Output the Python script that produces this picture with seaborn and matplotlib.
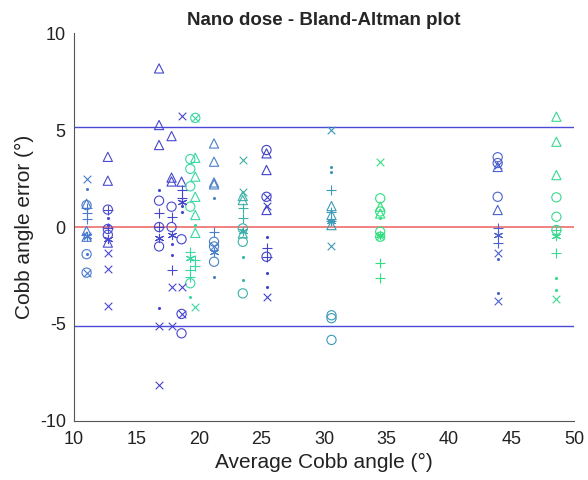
import matplotlib
matplotlib.use("Agg")
import matplotlib.pyplot as plt
from matplotlib.markers import MarkerStyle
import seaborn as sns

# Average Cobb angle of each case (x) and its colour
case_x = [11.0, 12.7, 16.8, 17.8, 18.6, 19.3, 19.7, 21.2, 23.5, 25.4, 30.6, 34.5, 43.9, 48.6]
case_colors = ['#4a7ad0', '#4a4ad0', '#4646cc', '#4848d0', '#4646cc', '#3ad8a0', '#3ad8a0',
               '#4a80c8', '#3ab0a8', '#4242c8', '#3a9ab8', '#30e080', '#4a62d0', '#3ad890']

# Cobb angle error per case, one list per reader marker
tri_err = [[1.2, -0.2, -0.5], [3.62, 2.39, -0.8], [8.18, 5.26, 4.23], [4.69, 2.55, 2.35],
           [2.34], [], [3.57, 2.6, 1.56, 0.62, -0.3], [4.31, 3.37, 2.3, 2.2],
           [1.6, 1.39, -0.33], [3.8, 2.94, 0.88], [1.08, 0.62, 0.1], [1.05, 0.7],
           [3.1, 0.88], [5.69, 4.4, 2.68]]
circ_err = [[1.13, -1.4, -2.35], [0.9, -0.1, -0.4], [1.36, 0.0, -1.0], [1.05, 0.0],
            [-0.63, -4.48, -5.48], [3.5, 3.0, 2.1, 1.05, -2.9], [5.63], [-0.76, -1.0, -1.79],
            [-0.07, -0.76, -3.42], [3.97, 1.56, -1.53], [-4.55, -4.7, -5.82],
            [1.48, 0.8, -0.24, -0.5], [3.6, 3.3, 1.56], [1.53, 0.53, -0.15]]
plus_err = [[1.0, 0.7, 0.4], [0.9, -0.05], [0.7, 0.0], [0.53, -2.2], [1.9, 1.5],
            [-1.3, -2.2, -2.6], [-1.7, -2.0], [-0.24], [0.96, 0.45], [-1.1, -1.53],
            [1.9, 0.79, 0.3], [-1.87, -2.65], [-0.07, -0.84], [-0.15, -1.36]]
star_err = [[-0.45], [-0.6], [-0.55], [-0.4], [1.3], [-1.6], [], [-1.27], [-0.2], [],
            [0.3], [-0.4], [-0.41], [-0.45]]
dot_err = [[1.94, -1.4], [0.45, 0.1], [1.9, -4.18], [-1.44, -0.9], [0.79, 1.1], [-3.6],
           [0.1], [1.48, -2.56], [-1.53, -2.73], [-0.5, -2.35, -3.07], [3.1, 2.85], [0.45],
           [-1.65, -3.39], [-2.65, -3.25]]
cross_err = [[2.5, -0.45, -2.35], [-1.36, -2.17, -4.07], [-5.08, -8.15], [-3.08, -5.08],
             [5.72, -3.1, -4.48], [], [-4.14, 5.63], [-1.0], [3.45, 1.82], [1.56, 1.1, -3.59],
             [5.0, -1.0], [3.37, -0.45], [3.2, -1.36, -3.8], [-3.73]]

mean_diff = 0.02
loa_upper = 5.14
loa_lower = -5.1

sns.set_style("white")
plt.rcParams['font.family'] = ['Liberation Sans', 'DejaVu Sans']
plt.rcParams['axes.unicode_minus'] = False

fig = plt.figure(figsize=(5.88, 4.8), dpi=100)
ax = fig.add_axes([0.126, 0.123, 0.85, 0.808])

marker_sets = [
    (tri_err, MarkerStyle('^', fillstyle='none'), 44),
    (circ_err, MarkerStyle('o', fillstyle='none'), 44),
    (plus_err, MarkerStyle('+'), 44),
    (star_err, MarkerStyle((6, 2, 0)), 36),
    (cross_err, MarkerStyle('x'), 30),
]

for errs, marker, size in marker_sets:
    for xc, col, vals in zip(case_x, case_colors, errs):
        if not vals:
            continue
        sns.scatterplot(x=[xc] * len(vals), y=vals, marker=marker, color=col,
                        s=size, linewidth=0.8, legend=False, ax=ax, zorder=3)

for xc, col, vals in zip(case_x, case_colors, dot_err):
    if vals:
        sns.scatterplot(x=[xc] * len(vals), y=vals, marker='o', color=col,
                        s=5, linewidth=0, legend=False, ax=ax, zorder=3)

ax.axhline(loa_upper, color='#4a4ad8', linewidth=1.0, zorder=2)
ax.axhline(loa_lower, color='#4a4ad8', linewidth=1.0, zorder=2)
ax.axhline(mean_diff, color='#f07878', linewidth=1.3, zorder=2)

ax.set_xlim(10, 50)
ax.set_ylim(-10, 10)
ax.set_xticks(range(10, 51, 5))
ax.set_yticks([-10, -5, 0, 5, 10])
ax.tick_params(direction='in', length=4, width=0.8, labelsize=13, colors='#222222')
ax.tick_params(axis='x', pad=7)
ax.tick_params(axis='y', pad=6)
for side in ['top', 'right']:
    ax.spines[side].set_visible(False)
for side in ['left', 'bottom']:
    ax.spines[side].set_color('#555555')
    ax.spines[side].set_linewidth(0.8)

ax.set_xlabel('Average Cobb angle (°)', fontsize=15, color='#222222', labelpad=4)
ax.set_ylabel('Cobb angle error (°)', fontsize=15, color='#222222', labelpad=4)
ax.set_title('Nano dose - Bland-Altman plot', fontsize=13.5, fontweight='bold', pad=6)

fig.savefig('out.png', dpi=100)
